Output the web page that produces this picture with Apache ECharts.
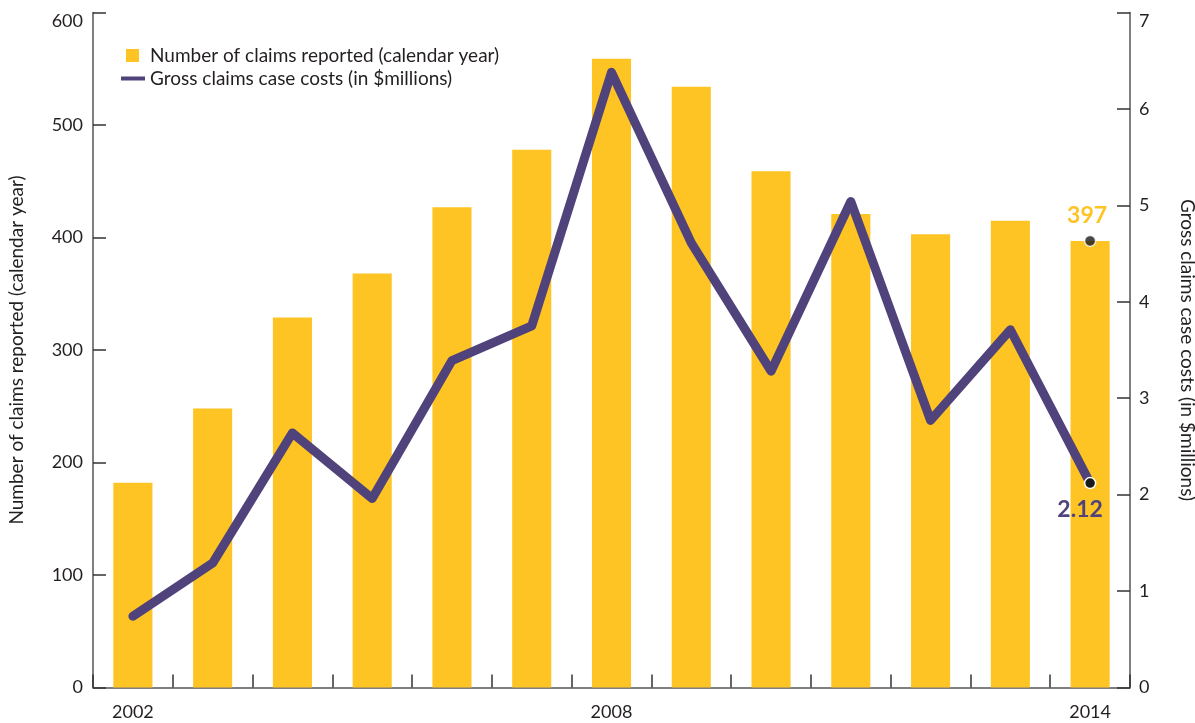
<!DOCTYPE html>
<html>
<head>
<meta charset="utf-8">
<script src="https://cdn.jsdelivr.net/npm/echarts@6/dist/echarts.min.js"></script>
<style>
  html, body { margin: 0; padding: 0; background: #fff; }
  #chart { width: 1195px; height: 723px; }
</style>
</head>
<body>
<div id="chart"></div>
<script>
// Claims reported per calendar year and gross claims case costs
const years = ['2002','2003','2004','2005','2006','2007','2008','2009','2010','2011','2012','2013','2014'];
const claimsReported = [182, 248, 329, 368, 427, 478, 559, 534, 459, 421, 403, 415, 397];
const grossCosts = [0.74, 1.29, 2.64, 1.96, 3.39, 3.75, 6.38, 4.61, 3.28, 5.04, 2.77, 3.71, 2.12];
const leftTicks = { min: 0, max: 600, step: 100 };
const rightTicks = { min: 0, max: 7, step: 1 };

const YELLOW = '#FDC423';
const PURPLE = '#50427A';
const TEXT = '#231F20';
const AXIS = '#555555';
const FONT = 'Lato';

const last = years.length - 1;

const barData = claimsReported.map((v, i) => i === last ? {
  value: v,
  label: {
    show: true, position: 'top', distance: 14, offset: [-3, 0],
    color: YELLOW, fontFamily: FONT, fontWeight: 'bold', fontSize: 23
  }
} : v);

const lineData = grossCosts.map((v, i) => i === last ? {
  value: v,
  symbol: 'circle',
  symbolSize: 11,
  itemStyle: { color: '#1a1a1a', borderColor: '#fff', borderWidth: 1.5 },
  label: {
    show: true, position: 'bottom', distance: 9, offset: [-10, 0],
    color: PURPLE, fontFamily: FONT, fontWeight: 'bold', fontSize: 23
  }
} : v);

const axisLabelStyle = { color: TEXT, fontFamily: FONT, fontSize: 18 };
const nameStyle = { color: TEXT, fontFamily: FONT, fontSize: 19 };

const chart = echarts.init(document.getElementById('chart'), null, { renderer: 'canvas' });
chart.setOption({
  animation: false,
  backgroundColor: '#fff',
  textStyle: { fontFamily: FONT, color: TEXT },
  grid: { left: 93, right: 65, top: 12.5, bottom: 35.5, containLabel: false, outerBoundsMode: 'none' },
  legend: [
    {
      data: [{ name: 'Number of claims reported (calendar year)', icon: 'rect' }],
      left: 121, top: 41,
      itemWidth: 13, itemHeight: 13,
      textStyle: Object.assign({ padding: [0, 0, 0, 6] }, nameStyle),
      selectedMode: false
    },
    {
      data: [{ name: 'Gross claims case costs (in $millions)', icon: 'rect' }],
      left: 116, top: 64,
      itemWidth: 24, itemHeight: 4,
      textStyle: Object.assign({ padding: [0, 0, 0, 0] }, nameStyle),
      selectedMode: false
    }
  ],
  xAxis: {
    type: 'category',
    data: years,
    boundaryGap: true,
    axisLine: { show: true, lineStyle: { color: AXIS, width: 1.5 } },
    axisTick: { show: true, inside: true, length: 13, interval: 0, lineStyle: { color: '#333', width: 1.5 } },
    axisLabel: Object.assign({ interval: 5, margin: 16 }, axisLabelStyle),
    splitLine: { show: false }
  },
  yAxis: [
    {
      type: 'value',
      position: 'left',
      min: leftTicks.min, max: leftTicks.max, interval: leftTicks.step,
      name: 'Number of claims reported (calendar year)',
      nameLocation: 'middle',
      nameGap: 67,
      nameTextStyle: nameStyle,
      axisLine: { show: true, lineStyle: { color: AXIS, width: 1.5 } },
      axisTick: { show: true, inside: true, length: 13, lineStyle: { color: '#333', width: 1.5 } },
      axisLabel: Object.assign({ margin: 10, verticalAlignMaxLabel: 'top' }, axisLabelStyle),
      splitLine: { show: false }
    },
    {
      type: 'value',
      position: 'right',
      min: rightTicks.min, max: rightTicks.max, interval: rightTicks.step,
      name: 'Gross claims case costs (in $millions)',
      nameLocation: 'middle',
      nameRotate: -90,
      nameGap: 48,
      nameTextStyle: nameStyle,
      axisLine: { show: true, lineStyle: { color: AXIS, width: 1.5 } },
      axisTick: { show: true, inside: true, length: 13, lineStyle: { color: '#333', width: 1.5 } },
      axisLabel: Object.assign({ margin: 9, verticalAlignMaxLabel: 'top' }, axisLabelStyle),
      splitLine: { show: false }
    }
  ],
  series: [
    {
      name: 'Number of claims reported (calendar year)',
      type: 'bar',
      yAxisIndex: 0,
      data: barData,
      barWidth: '49%',
      itemStyle: { color: YELLOW },
      z: 2
    },
    {
      // end marker sitting on top of the last bar
      name: 'latestClaims',
      type: 'scatter',
      yAxisIndex: 0,
      data: [[years[last], claimsReported[last]]],
      symbol: 'circle',
      symbolSize: 11,
      itemStyle: { color: '#1a1a1a', borderColor: '#fff', borderWidth: 1.5 },
      z: 5
    },
    {
      name: 'Gross claims case costs (in $millions)',
      type: 'line',
      yAxisIndex: 1,
      data: lineData,
      symbol: 'none',
      showSymbol: true,
      lineStyle: { color: PURPLE, width: 9, cap: 'round', join: 'round' },
      itemStyle: { color: PURPLE },
      z: 4
    }
  ]
});
</script>
</body>
</html>
